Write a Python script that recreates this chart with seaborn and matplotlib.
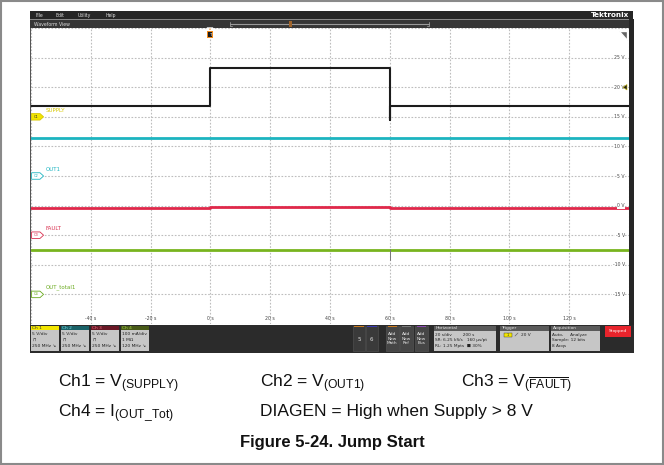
import numpy as np
import pandas as pd
import matplotlib
matplotlib.use("Agg")
import matplotlib.pyplot as plt
from matplotlib.patches import Rectangle, Polygon
import seaborn as sns

# --- data (time in s, level in V on the right-hand scale) ---
supply_t = [-60, 0, 0, 60, 60, 60, 140]
supply_v = [16.8, 16.8, 23.3, 23.3, 14.5, 16.8, 16.8]
out1_t = [-60, 140]
out1_v = [11.4, 11.4]
fault_t = [-60, 0, 0, 60, 60, 140]
fault_v = [-0.45, -0.45, -0.2, -0.2, -0.4, -0.4]
iout_t = [-60, 140]
iout_v = [-7.45, -7.45]
glitch_t = [60, 60]
glitch_v = [-7.3, -9.2]

channels = ["Ch1", "Ch2", "Ch3", "Ch4"]
trace_names = ["SUPPLY", "OUT1", "FAULT", "OUT_total1"]
channel_offsets = [15, 5, -5, -15]
colors = {"Ch1": "#1c1c1c", "Ch2": "#1cb4c0", "Ch3": "#e0284a", "Ch4": "#78b41e"}
label_colors = ["#d8c800", "#1cb4c0", "#d9304f", "#6aaa1e"]

time_ticks = list(range(-60, 141, 20))
volt_ticks = list(range(-20, 31, 5))

W, H = 664, 465

sns.set_theme(style="white")
plt.rcParams["font.family"] = ["DejaVu Sans"]
plt.rcParams["mathtext.fontset"] = "custom"
plt.rcParams["mathtext.rm"] = "Liberation Sans"
plt.rcParams["mathtext.it"] = "Liberation Sans:italic"
plt.rcParams["mathtext.bf"] = "Liberation Sans:bold"

df = pd.concat([
    pd.DataFrame({"t": supply_t, "v": supply_v, "ch": "Ch1"}),
    pd.DataFrame({"t": out1_t, "v": out1_v, "ch": "Ch2"}),
    pd.DataFrame({"t": fault_t, "v": fault_v, "ch": "Ch3"}),
    pd.DataFrame({"t": iout_t, "v": iout_v, "ch": "Ch4"}),
], ignore_index=True)

fig = plt.figure(figsize=(W / 100, H / 100), dpi=100)
fig.patch.set_facecolor("white")

# pixel overlay for the scope chrome
ui = fig.add_axes([0, 0, 1, 1])
ui.set_xlim(0, W)
ui.set_ylim(H, 0)
ui.axis("off")
ui.patch.set_alpha(0)
ui.set_zorder(3)

# main waveform area
ax = fig.add_axes([31 / W, (H - 324) / H, 598 / W, 296 / H])
ax.set_zorder(2)
ax.set_facecolor("white")
ax.set_xlim(time_ticks[0], time_ticks[-1])
ax.set_ylim(volt_ticks[0], volt_ticks[-1])
ax.set_xticks(time_ticks)
ax.set_yticks(volt_ticks)
ax.tick_params(length=0, labelbottom=False, labelleft=False)
ax.grid(True, color="#bdbdbd", linestyle=(0, (1.5, 1.5)), linewidth=0.8)
for s in ax.spines.values():
    s.set_visible(False)

for ch in channels:
    sub = df[df["ch"] == ch]
    lw = 1.5 if ch == "Ch1" else 2.0
    sns.lineplot(data=sub, x="t", y="v", color=colors[ch], lw=lw, sort=False,
                 estimator=None, legend=False, ax=ax, zorder=3)
sns.lineplot(x=glitch_t, y=glitch_v, color="#777777", lw=0.7, sort=False,
             estimator=None, legend=False, ax=ax, zorder=4)
ax.set_xlabel("")
ax.set_ylabel("")

# time labels along the bottom, volt labels along the right edge
for t in time_ticks[1:-1]:
    ax.text(t, volt_ticks[0] + 0.5, f"{t} s", ha="center", va="bottom",
            fontsize=3.3, color="#444")
for v in volt_ticks[1:-1]:
    ax.text(0.993, v, f"{v} V", transform=ax.get_yaxis_transform(), ha="right",
            va="center", fontsize=3.3, color="#444",
            bbox=dict(fc="white", ec="none", pad=0.4))

# channel badges on the left
tr = ax.get_yaxis_transform()
for i, (off, name) in enumerate(zip(channel_offsets, trace_names)):
    c = label_colors[i]
    fc = "#f2e500" if i == 0 else "white"
    ax.add_patch(Polygon([(0.001, off + 0.55), (0.015, off + 0.55), (0.021, off),
                          (0.015, off - 0.55), (0.001, off - 0.55)], closed=True,
                         transform=tr, fc=fc, ec=c, lw=0.6, zorder=5))
    ax.text(0.009, off, f"C{i + 1}", transform=tr, ha="center", va="center",
            fontsize=2.6, color="#333" if i == 0 else c, zorder=6)
    ax.text(0.024, off + 0.7, name, transform=tr, ha="left", va="bottom",
            fontsize=4, color=c, zorder=6)


def box(x0, y0, x1, y1, fc, ec="none", lw=0.5, z=1):
    ui.add_patch(Rectangle((x0, y0), x1 - x0, y1 - y0, fc=fc, ec=ec, lw=lw, zorder=z))


def txt(x, y, s, size=3.3, color="#222", **kw):
    ui.text(x, y, s, fontsize=size, color=color, va="center", **kw)


# outer border
ui.add_patch(Rectangle((1, 1), W - 2.5, H - 2.5, fc="none", ec="#8a8a8a", lw=1.5))

# top menu / waveform view bars
box(30, 11, 633, 19.5, "#262626")
box(30, 19.5, 633, 20.3, "#8a8a8a")
box(30, 20.3, 633, 28, "#363636")
for x, s in zip([36, 57, 79, 106], ["File", "Edit", "Utility", "Help"]):
    txt(x - 1, 15.2, s, color="#dddddd")
txt(34, 24.2, "Waveform View", color="#dddddd")
txt(629, 15.2, "Tektronix", size=5.2, color="white", ha="right", weight="bold")
ui.plot([230, 429], [24, 24], color="#9a9a9a", lw=0.8)
ui.plot([230, 230, 232], [22, 26, 26], color="#9a9a9a", lw=0.6)
ui.plot([429, 429, 427], [22, 26, 26], color="#9a9a9a", lw=0.6)
box(288.5, 21, 291.5, 27, "#a0642a", z=2)

# right dark frame
box(629, 19.5, 633.5, 352, "#262626")
box(30, 28, 30.8, 325, "#555555")

# trigger marker and icons
ui.add_patch(Polygon([(207, 28), (213, 28), (210, 31)], fc="#f08a1c", zorder=4))
box(207, 31, 213, 38.5, "#f08a1c", z=4)
box(208, 32, 212, 37.5, "#1a1a1a", z=5)
txt(210, 34.8, "T", size=3, color="white", ha="center", zorder=6)
ui.add_patch(Polygon([(619, 31), (627, 31), (627, 40)], fc="#666666", zorder=4))
ui.add_patch(Polygon([(623, 87.3), (627, 84.5), (627, 90)], fc="#222", ec="#c8b800",
                     lw=0.4, zorder=4))

# bottom control strip
box(30, 324.5, 633.5, 352.5, "#2b2b2b")
ch_heads = ["#f2e500", "#1a6268", "#6a1826", "#485a18"]
ch_head_txt = ["#333", "#7fe0e8", "#f07080", "#a8d848"]
ch_body = [["5 V/div", "⊓", "250 MHz ↘"], ["5 V/div", "⊓", "250 MHz ↘"],
           ["5 V/div", "⊓", "250 MHz ↘"], ["100 mA/div", "1 MΩ", "120 MHz ↘"]]
for i, x0 in enumerate([31, 60.7, 90.7, 120.7]):
    box(x0, 325.7, x0 + 28.3, 329.5, ch_heads[i])
    box(x0, 329.5, x0 + 28.3, 350.7, "#c6c6c6")
    txt(x0 + 1.5, 327.6, f"Ch {i + 1}", size=3.2, color=ch_head_txt[i])
    for j, s in enumerate(ch_body[i]):
        txt(x0 + 1.5, 333.5 + j * 6, s, size=3.2)

for x0, x1, strip, s in [(352.7, 365, "#c87a20", "5"), (365.7, 378, "#3a3ab0", "6")]:
    box(x0, 325.7, x1, 350.7, "#3a3a3a", ec="#555", lw=0.4)
    box(x0 + 1.5, 326.2, x1 - 1.5, 327.4, strip, z=2)
    txt((x0 + x1) / 2, 339, s, size=4, color="#e0e0e0", ha="center")
for x0, strip, s in [(386, "#c87a20", "Add\nNew\nMath"), (400, "#7a7a7a", "Add\nNew\nRef"),
                     (415, "#8a4ab0", "Add\nNew\nBus")]:
    box(x0, 325.7, x0 + 12.7, 350.7, "#464646", ec="#5a5a5a", lw=0.4)
    box(x0 + 1.5, 326.2, x0 + 11.2, 327.4, strip, z=2)
    txt(x0 + 6.3, 338.5, s, size=3.1, color="#e8e8e8", ha="center", linespacing=1.05)

panels = [
    (433.7, 496, "Horizontal", ["20 s/div        200 s", "SR: 6.25 kS/s   160 µs/pt",
                                "RL: 1.25 Mpts  ■ 30%"]),
    (499.7, 548.7, "Trigger", []),
    (551, 599.7, "Acquisition", ["Auto,     Analyze", "Sample: 12 bits", "8 Acqs"]),
]
for x0, x1, head, lines in panels:
    box(x0, 325.7, x1, 331, "#5a5a5a")
    box(x0, 331, x1, 350.7, "#c6c6c6")
    txt(x0 + 1.5, 328.3, head, size=3.2, color="#e8e8e8")
    for j, s in enumerate(lines):
        txt(x0 + 1.5, 334.5 + j * 5.5, s, size=3.1)
box(504, 332.5, 512, 336.5, "#f2e500", ec="#333", lw=0.3, z=2)
txt(508, 334.5, "1", size=2.6, color="#333", ha="center", zorder=3)
ui.plot([515, 518], [336, 333], color="#666", lw=0.5)
txt(521, 334.5, "20 V", size=3.1)
box(604.7, 325.7, 631, 336.7, "#e8242c")
txt(617.8, 331.2, "Stopped", size=3.2, color="white", ha="center")

# caption lines below the screenshot
cap = dict(fontsize=12.5, fontfamily="Liberation Sans", color="#111", va="baseline")
fig.text(58 / W, 1 - 387 / H, r"Ch1 = V$_{\mathrm{(SUPPLY)}}$", **cap)
fig.text(260 / W, 1 - 387 / H, r"Ch2 = V$_{\mathrm{(OUT1)}}$", **cap)
fig.text(461 / W, 1 - 387 / H, r"Ch3 = V$_{\mathrm{(\overline{FAULT})}}$", **cap)
fig.text(58 / W, 1 - 416 / H, r"Ch4 = I$_{\mathrm{(OUT\_Tot)}}$", **cap)
fig.text(260 / W, 1 - 416 / H, "DIAGEN = High when Supply > 8 V", **cap)
fig.text(332 / W, 1 - 447 / H, "Figure 5-24. Jump Start", fontsize=12, weight="bold",
         fontfamily="Liberation Sans", color="#111", ha="center", va="baseline")

fig.savefig("out.png", dpi=100)
